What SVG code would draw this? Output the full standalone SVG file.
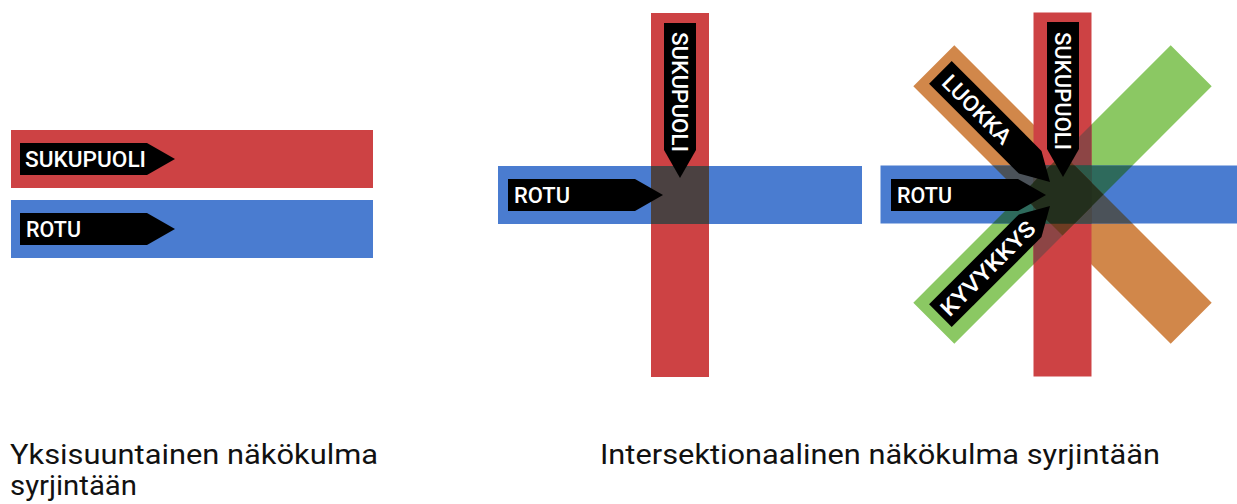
<svg xmlns="http://www.w3.org/2000/svg" xmlns:xlink="http://www.w3.org/1999/xlink" width="1237" height="504" viewBox="0 0 1237 504">
<style>
.red{fill:#cd4244}.blue{fill:#4a7cd0}.green{fill:#8bc863}.orange{fill:#d1874a}
.tag{fill:#000}
.lbl{fill:#fff;font-family:Roboto,"Liberation Sans",sans-serif;font-weight:500;font-size:22px}
.cap{fill:#111;font-family:Roboto,"Liberation Sans",sans-serif;font-weight:400;font-size:28px}
</style>
<defs>
<path id="tag" d="M-155,-16H-28L0,0L-28,16H-155Z"/>
<clipPath id="cR"><rect x="-29" y="-182" width="58" height="364" transform="translate(1062.5 194.5)"/></clipPath>
<clipPath id="cB"><rect x="-29" y="-182" width="58" height="364" transform="translate(1062.5 194.5) rotate(90)"/></clipPath>
<clipPath id="cO"><rect x="-29" y="-182" width="58" height="364" transform="translate(1062.5 194.5) rotate(-45)"/></clipPath>
<clipPath id="cG"><rect x="-29" y="-182" width="58" height="364" transform="translate(1062.5 194.5) rotate(45)"/></clipPath>
</defs>
<rect width="1237" height="504" fill="#fff"/>

<g id="panel-left">
<rect class="red" x="11" y="130" width="362" height="58"/>
<rect class="blue" x="11" y="200" width="362" height="58"/>
<g id="left-sukupuoli"><use href="#tag" class="tag" transform="translate(175 159)"/><text class="lbl" x="25" y="167" textLength="121" lengthAdjust="spacingAndGlyphs">SUKUPUOLI</text></g>
<g id="left-rotu"><use href="#tag" class="tag" transform="translate(175 229)"/><text class="lbl" x="26" y="237" textLength="55" lengthAdjust="spacingAndGlyphs">ROTU</text></g>
</g>

<g id="panel-middle">
<rect class="red" x="651" y="13" width="58" height="364"/>
<rect class="blue" x="498" y="166" width="364" height="58"/>
<rect x="651" y="166" width="58" height="58" fill="#4b4141"/>
<g id="mid-rotu"><use href="#tag" class="tag" transform="translate(663 195)"/><text class="lbl" x="514" y="203" textLength="56" lengthAdjust="spacingAndGlyphs">ROTU</text></g>
<g id="mid-sukupuoli" transform="translate(680 178) rotate(90)"><use href="#tag" class="tag"/><text class="lbl" x="-146" y="8" textLength="120" lengthAdjust="spacingAndGlyphs">SUKUPUOLI</text></g>
</g>

<g id="panel-right">
<g id="bars">
<rect class="orange" x="-29" y="-182" width="58" height="364" transform="translate(1062.5 194.5) rotate(-45)"/>
<rect class="green" x="-29" y="-182" width="58" height="364" transform="translate(1062.5 194.5) rotate(45)"/>
<rect class="red" x="-29" y="-182" width="58" height="364" transform="translate(1062.5 194.5)"/>
<rect class="blue" x="-29" y="-182" width="58" height="364" transform="translate(1062.5 194.5) rotate(90)"/>
</g>
<g id="overlaps">
<g clip-path="url(#cR)"><rect x="-29" y="-182" width="58" height="364" transform="translate(1062.5 194.5) rotate(45)" fill="#8d4545"/></g>
<g clip-path="url(#cB)"><rect x="-29" y="-182" width="58" height="364" transform="translate(1062.5 194.5) rotate(45)" fill="#2e6a5c"/></g>
<g clip-path="url(#cB)"><rect x="-29" y="-182" width="58" height="364" transform="translate(1062.5 194.5) rotate(-45)" fill="#4b5259"/></g>
<g clip-path="url(#cB)"><rect x="-29" y="-182" width="58" height="364" transform="translate(1062.5 194.5)" fill="#4b4141"/></g>
<g clip-path="url(#cR)"><g clip-path="url(#cB)"><rect x="-29" y="-182" width="58" height="364" transform="translate(1062.5 194.5) rotate(45)" fill="#2d5848"/></g></g>
<g clip-path="url(#cR)"><g clip-path="url(#cB)"><rect x="-29" y="-182" width="58" height="364" transform="translate(1062.5 194.5) rotate(-45)" fill="#4a4a47"/></g></g>
<g clip-path="url(#cR)"><g clip-path="url(#cG)"><rect x="-29" y="-182" width="58" height="364" transform="translate(1062.5 194.5) rotate(-45)" fill="#6e3c22"/></g></g>
<g clip-path="url(#cB)"><g clip-path="url(#cG)"><rect x="-29" y="-182" width="58" height="364" transform="translate(1062.5 194.5) rotate(-45)" fill="#25331f"/></g></g>
<g clip-path="url(#cR)"><g clip-path="url(#cB)"><g clip-path="url(#cG)"><rect x="-29" y="-182" width="58" height="364" transform="translate(1062.5 194.5) rotate(-45)" fill="#232f1d"/></g></g></g>
</g>
<g id="right-rotu"><use href="#tag" class="tag" transform="translate(1046 195)"/><text class="lbl" x="897" y="203" textLength="55" lengthAdjust="spacingAndGlyphs">ROTU</text></g>
<g id="right-sukupuoli" transform="translate(1063 177) rotate(90)"><use href="#tag" class="tag"/><text class="lbl" x="-145" y="8" textLength="118" lengthAdjust="spacingAndGlyphs">SUKUPUOLI</text></g>
<g id="right-luokka" transform="translate(1050 182) rotate(45)"><use href="#tag" class="tag"/><text class="lbl" x="-147" y="8" textLength="88" lengthAdjust="spacingAndGlyphs">LUOKKA</text></g>
<g id="right-kyvykkyys" transform="translate(1050 206) rotate(-45)"><use href="#tag" class="tag"/><text class="lbl" x="-150" y="8" textLength="124" lengthAdjust="spacingAndGlyphs">KYVYKKYS</text></g>
</g>

<g id="captions">
<text class="cap" x="10" y="464" textLength="368" lengthAdjust="spacingAndGlyphs">Yksisuuntainen näkökulma</text>
<text class="cap" x="10" y="495" textLength="127" lengthAdjust="spacingAndGlyphs">syrjintään</text>
<text class="cap" x="600" y="464" textLength="560" lengthAdjust="spacingAndGlyphs">Intersektionaalinen näkökulma syrjintään</text>
</g>
</svg>
